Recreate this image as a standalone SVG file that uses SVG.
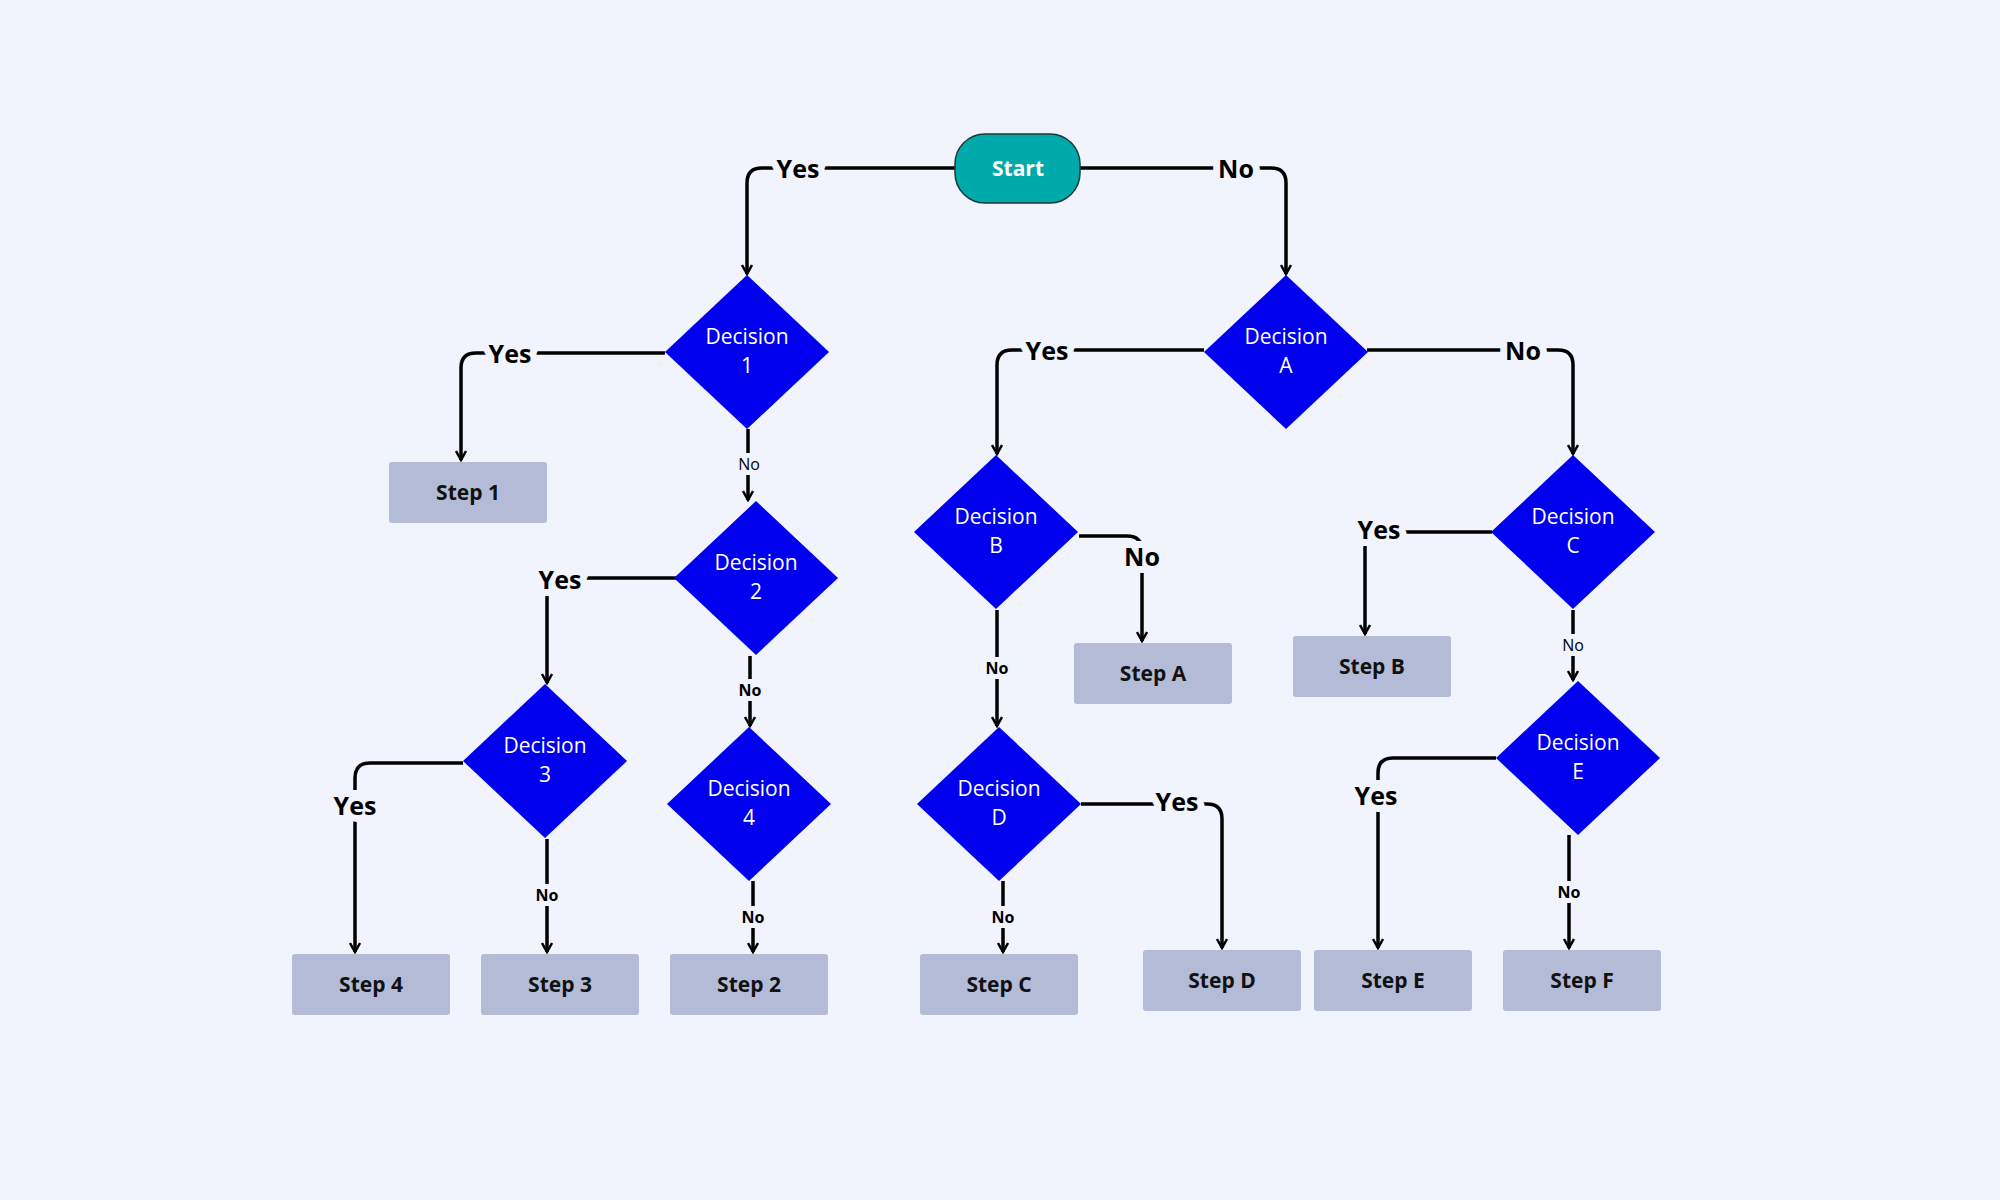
<svg xmlns="http://www.w3.org/2000/svg" width="2000" height="1200" viewBox="0 0 2000 1200">
<style>
.bg{fill:#f1f4fd}
.dia{fill:#0000ee}
.step{fill:#b3bbd6}
.dt{fill:#fff;font-family:"Open Sans","Noto Sans",sans-serif;font-size:21px;text-anchor:middle}
.st{fill:#111;font-family:"Open Sans","Noto Sans",sans-serif;font-size:21px;font-weight:bold;text-anchor:middle}
.c{fill:none;stroke:#000;stroke-width:3.5}
.lb{fill:#000;font-family:"Open Sans","Noto Sans",sans-serif;font-weight:bold;font-size:25px;text-anchor:middle;dominant-baseline:central;stroke:#f1f4fd;stroke-width:14;paint-order:stroke}
.ls{fill:#000;font-family:"Open Sans","Noto Sans",sans-serif;font-size:16px;text-anchor:middle;dominant-baseline:central;stroke:#f1f4fd;stroke-width:10;paint-order:stroke}
</style>
<defs>
<marker id="ah" viewBox="0 0 12 12" refX="10" refY="6" markerWidth="12" markerHeight="12" markerUnits="userSpaceOnUse" orient="auto">
<path d="M1,1 L10,6 L1,11" fill="none" stroke="#000" stroke-width="2.5"/>
</marker>
</defs>
<rect class="bg" x="0" y="0" width="2000" height="1200"/>
<g id="connectors">
<path class="c" marker-end="url(#ah)" d="M955,168 H762 Q747,168 747,183 V274"/>
<path class="c" marker-end="url(#ah)" d="M1080,168 H1271 Q1286,168 1286,183 V274"/>
<path class="c" marker-end="url(#ah)" d="M665,353 H476 Q461,353 461,368 V460"/>
<path class="c" marker-end="url(#ah)" d="M748,429 V500"/>
<path class="c" marker-end="url(#ah)" d="M676,578 H562 Q547,578 547,593 V683"/>
<path class="c" marker-end="url(#ah)" d="M750,656 V726"/>
<path class="c" marker-end="url(#ah)" d="M463,763 H370 Q355,763 355,778 V952"/>
<path class="c" marker-end="url(#ah)" d="M547,839 V952"/>
<path class="c" marker-end="url(#ah)" d="M753,881 V952"/>
<path class="c" marker-end="url(#ah)" d="M1204,350 H1012 Q997,350 997,365 V454"/>
<path class="c" marker-end="url(#ah)" d="M1367,350 H1558 Q1573,350 1573,365 V454"/>
<path class="c" marker-end="url(#ah)" d="M1079,536 H1127 Q1142,536 1142,551 V641"/>
<path class="c" marker-end="url(#ah)" d="M997,610 V726"/>
<path class="c" marker-end="url(#ah)" d="M1492,532 H1380 Q1365,532 1365,547 V634"/>
<path class="c" marker-end="url(#ah)" d="M1573,610 V680"/>
<path class="c" marker-end="url(#ah)" d="M1081,804 H1207 Q1222,804 1222,819 V948"/>
<path class="c" marker-end="url(#ah)" d="M1003,881 V952"/>
<path class="c" marker-end="url(#ah)" d="M1496,758 H1393 Q1378,758 1378,773 V948"/>
<path class="c" marker-end="url(#ah)" d="M1569,835 V948"/>
<text class="lb" x="798" y="168">Yes</text>
<text class="lb" x="1236" y="168">No</text>
<text class="lb" x="510" y="353">Yes</text>
<text class="ls" x="749" y="464">No</text>
<text class="lb" x="560" y="579">Yes</text>
<text class="ls" x="750" y="690" font-weight="bold">No</text>
<text class="lb" x="355" y="805">Yes</text>
<text class="ls" x="547" y="895" font-weight="bold">No</text>
<text class="ls" x="753" y="917" font-weight="bold">No</text>
<text class="lb" x="1047" y="350">Yes</text>
<text class="lb" x="1523" y="350">No</text>
<text class="lb" x="1142" y="556">No</text>
<text class="ls" x="997" y="668" font-weight="bold">No</text>
<text class="lb" x="1379" y="529">Yes</text>
<text class="ls" x="1573" y="645">No</text>
<text class="lb" x="1177" y="801">Yes</text>
<text class="ls" x="1003" y="917" font-weight="bold">No</text>
<text class="lb" x="1376" y="795">Yes</text>
<text class="ls" x="1569" y="892" font-weight="bold">No</text>
</g>
<g id="start"><rect x="955" y="134" width="125" height="69" rx="30" fill="#00aaaa" stroke="#1a3a3a" stroke-width="1.5"/><text class="st" x="1018" y="176" fill="#fff" style="fill:#fff">Start</text></g>
<g id="d1"><polygon class="dia" points="747,275 829,352 747,429 665,352"/><text class="dt" x="747" y="344">Decision</text><text class="dt" x="747" y="373">1</text></g>
<g id="d2"><polygon class="dia" points="756,501 838,578 756,655 674,578"/><text class="dt" x="756" y="570">Decision</text><text class="dt" x="756" y="599">2</text></g>
<g id="d3"><polygon class="dia" points="545,684 627,761 545,838 463,761"/><text class="dt" x="545" y="753">Decision</text><text class="dt" x="545" y="782">3</text></g>
<g id="d4"><polygon class="dia" points="749,727 831,804 749,881 667,804"/><text class="dt" x="749" y="796">Decision</text><text class="dt" x="749" y="825">4</text></g>
<g id="dA"><polygon class="dia" points="1286,275 1368,352 1286,429 1204,352"/><text class="dt" x="1286" y="344">Decision</text><text class="dt" x="1286" y="373">A</text></g>
<g id="dB"><polygon class="dia" points="996,455 1078,532 996,609 914,532"/><text class="dt" x="996" y="524">Decision</text><text class="dt" x="996" y="553">B</text></g>
<g id="dC"><polygon class="dia" points="1573,455 1655,532 1573,609 1491,532"/><text class="dt" x="1573" y="524">Decision</text><text class="dt" x="1573" y="553">C</text></g>
<g id="dD"><polygon class="dia" points="999,727 1081,804 999,881 917,804"/><text class="dt" x="999" y="796">Decision</text><text class="dt" x="999" y="825">D</text></g>
<g id="dE"><polygon class="dia" points="1578,681 1660,758 1578,835 1496,758"/><text class="dt" x="1578" y="750">Decision</text><text class="dt" x="1578" y="779">E</text></g>
<g id="s1"><rect class="step" x="389" y="462" width="158" height="61" rx="3"/><text class="st" x="468" y="500">Step 1</text></g>
<g id="s4"><rect class="step" x="292" y="954" width="158" height="61" rx="3"/><text class="st" x="371" y="992">Step 4</text></g>
<g id="s3"><rect class="step" x="481" y="954" width="158" height="61" rx="3"/><text class="st" x="560" y="992">Step 3</text></g>
<g id="s2"><rect class="step" x="670" y="954" width="158" height="61" rx="3"/><text class="st" x="749" y="992">Step 2</text></g>
<g id="sC"><rect class="step" x="920" y="954" width="158" height="61" rx="3"/><text class="st" x="999" y="992">Step C</text></g>
<g id="sD"><rect class="step" x="1143" y="950" width="158" height="61" rx="3"/><text class="st" x="1222" y="988">Step D</text></g>
<g id="sE"><rect class="step" x="1314" y="950" width="158" height="61" rx="3"/><text class="st" x="1393" y="988">Step E</text></g>
<g id="sF"><rect class="step" x="1503" y="950" width="158" height="61" rx="3"/><text class="st" x="1582" y="988">Step F</text></g>
<g id="sA"><rect class="step" x="1074" y="643" width="158" height="61" rx="3"/><text class="st" x="1153" y="681">Step A</text></g>
<g id="sB"><rect class="step" x="1293" y="636" width="158" height="61" rx="3"/><text class="st" x="1372" y="674">Step B</text></g>
</svg>
